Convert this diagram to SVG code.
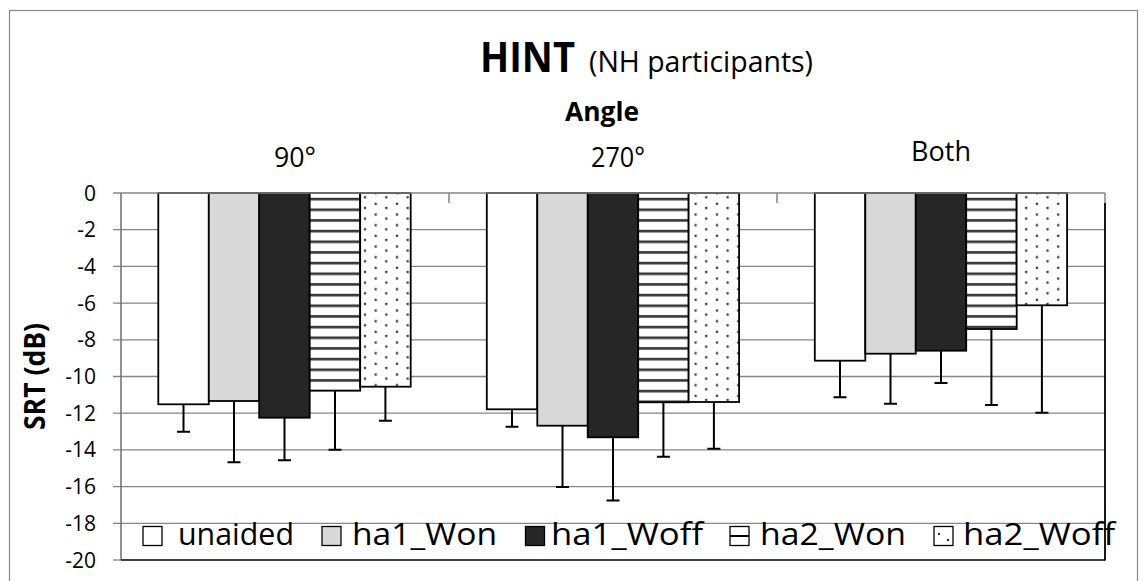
<svg xmlns="http://www.w3.org/2000/svg" width="1148" height="581" viewBox="0 0 1148 581">
<style>
text{font-family:"Open Sans","Liberation Sans",sans-serif;fill:#000}
.grid{stroke:#868686;stroke-width:1.3}
.bar{stroke:#000;stroke-width:1.8}
.err{stroke:#000;stroke-width:2;fill:none}
.tick{font-size:21px;text-anchor:end}
.cat{font-size:28px}
.leg{font-size:31px}
</style>
<defs>
<pattern id="stripes" patternUnits="userSpaceOnUse" x="0" y="193" width="20" height="10.667">
<rect width="20" height="10.667" fill="#fff"/>
<rect y="4.8" width="20" height="2.6" fill="#333"/>
</pattern>
<pattern id="dots" patternUnits="userSpaceOnUse" x="363" y="195.3" width="21.33" height="10.667">
<rect width="21.33" height="10.667" fill="#fff"/>
<circle cx="2" cy="2" r="1.3" fill="#3a3a3a"/>
<circle cx="12.67" cy="8.6" r="1.3" fill="#3a3a3a"/>
</pattern>
</defs>
<rect width="1148" height="581" fill="#fff"/>
<rect x="9.5" y="10.5" width="1128" height="580" fill="none" stroke="#898989" stroke-width="1.2"/>

<g id="title">
<text x="480" y="72" font-size="42" font-weight="bold" textLength="95" lengthAdjust="spacingAndGlyphs">HINT</text>
<text x="589" y="72" font-size="29" textLength="224" lengthAdjust="spacingAndGlyphs">(NH participants)</text>
</g>
<g id="axis-title-x">
<text x="565" y="121" font-size="27" font-weight="bold" textLength="74" lengthAdjust="spacingAndGlyphs">Angle</text>
</g>
<g id="category-labels">
<text x="274" y="167" class="cat" textLength="42" lengthAdjust="spacingAndGlyphs">90°</text>
<text x="591" y="167" class="cat" textLength="54" lengthAdjust="spacingAndGlyphs">270°</text>
<text x="911" y="161" class="cat" textLength="60" lengthAdjust="spacingAndGlyphs">Both</text>
</g>
<g id="axis-title-y">
<text transform="translate(44.5,430) rotate(-90)" font-size="28" font-weight="bold" textLength="107" lengthAdjust="spacingAndGlyphs">SRT (dB)</text>
</g>

<g id="gridlines" class="grid">
<line x1="113" y1="229.7" x2="1105" y2="229.7"/>
<line x1="113" y1="266.4" x2="1105" y2="266.4"/>
<line x1="113" y1="303.1" x2="1105" y2="303.1"/>
<line x1="113" y1="339.8" x2="1105" y2="339.8"/>
<line x1="113" y1="376.5" x2="1105" y2="376.5"/>
<line x1="113" y1="413.2" x2="1105" y2="413.2"/>
<line x1="113" y1="449.9" x2="1105" y2="449.9"/>
<line x1="113" y1="486.6" x2="1105" y2="486.6"/>
<line x1="113" y1="523.3" x2="1105" y2="523.3"/>
<line x1="113" y1="560" x2="121" y2="560"/>
</g>

<g id="y-tick-labels">
<text class="tick" x="96" y="200.5">0</text>
<text class="tick" x="96" y="237.2">-2</text>
<text class="tick" x="96" y="273.9">-4</text>
<text class="tick" x="96" y="310.6">-6</text>
<text class="tick" x="96" y="347.3">-8</text>
<text class="tick" x="96" y="384">-10</text>
<text class="tick" x="96" y="420.7">-12</text>
<text class="tick" x="96" y="457.4">-14</text>
<text class="tick" x="96" y="494.1">-16</text>
<text class="tick" x="96" y="530.8">-18</text>
<text class="tick" x="96" y="567.5">-20</text>
</g>

<g id="series-unaided">
<rect class="bar" x="158.3" y="193" width="50.5" height="211.3" fill="#fff"/>
<rect class="bar" x="486.8" y="193" width="50.5" height="216.3" fill="#fff"/>
<rect class="bar" x="814.8" y="193" width="50.5" height="167.7" fill="#fff"/>
</g>
<g id="series-ha1_Won">
<rect class="bar" x="208.8" y="193" width="50.5" height="208" fill="#d9d9d9"/>
<rect class="bar" x="537.3" y="193" width="50.5" height="232.7" fill="#d9d9d9"/>
<rect class="bar" x="865.3" y="193" width="50.5" height="160.7" fill="#d9d9d9"/>
</g>
<g id="series-ha1_Woff">
<rect class="bar" x="259.2" y="193" width="50.5" height="224.7" fill="#262626"/>
<rect class="bar" x="587.7" y="193" width="50.5" height="244.3" fill="#262626"/>
<rect class="bar" x="915.7" y="193" width="50.5" height="157.7" fill="#262626"/>
</g>
<g id="series-ha2_Won">
<rect class="bar" x="309.7" y="193" width="50.5" height="197.7" fill="url(#stripes)"/>
<rect class="bar" x="638.2" y="193" width="50.5" height="209.3" fill="url(#stripes)"/>
<rect class="bar" x="966.2" y="193" width="50.5" height="136" fill="url(#stripes)"/>
</g>
<g id="series-ha2_Woff">
<rect class="bar" x="360.2" y="193" width="50.5" height="193.7" fill="url(#dots)"/>
<rect class="bar" x="688.6" y="193" width="50.5" height="209" fill="url(#dots)"/>
<rect class="bar" x="1016.6" y="193" width="50.5" height="112.3" fill="url(#dots)"/>
</g>

<g id="error-bars" class="err">
<path d="M183.5 404.3V431.7M177 431.7H190"/>
<path d="M234 401V462.3M227.5 462.3H240.5"/>
<path d="M284.5 417.7V460.3M278 460.3H291"/>
<path d="M335 390.7V449.7M328.5 449.7H341.5"/>
<path d="M385.4 386.7V420.7M378.9 420.7H391.9"/>
<path d="M512 409.3V426.7M505.5 426.7H518.5"/>
<path d="M562.5 425.7V487M556 487H569"/>
<path d="M613 437.3V500.4M606.5 500.4H619.5"/>
<path d="M663.4 402.3V456.7M656.9 456.7H669.9"/>
<path d="M713.9 402V448.7M707.4 448.7H720.4"/>
<path d="M840 360.7V397.3M833.5 397.3H846.5"/>
<path d="M890.5 353.7V403.7M884 403.7H897"/>
<path d="M941 350.7V383M934.5 383H947.5"/>
<path d="M991.4 329V405M984.9 405H997.9"/>
<path d="M1041.9 305.3V412.7M1035.4 412.7H1048.4"/>
</g>

<g id="axes">
<line x1="113" y1="193" x2="1105" y2="193" stroke="#868686" stroke-width="1.5"/>
<line x1="121" y1="193" x2="121" y2="560" stroke="#6e6e6e" stroke-width="1.5"/>
<line x1="449" y1="193" x2="449" y2="203" stroke="#868686" stroke-width="1.5"/>
<line x1="777" y1="193" x2="777" y2="203" stroke="#868686" stroke-width="1.5"/>
<line x1="1105" y1="193" x2="1105" y2="203" stroke="#868686" stroke-width="1.5"/>
<line x1="1105" y1="203" x2="1105" y2="560.5" stroke="#000" stroke-width="1.8"/>
<line x1="121" y1="560" x2="1105" y2="560" stroke="#000" stroke-width="1.5"/>
</g>

<g id="legend">
<g id="legend-unaided">
<rect x="143" y="526.5" width="19" height="19" fill="#fff" stroke="#000" stroke-width="1.3"/>
<text class="leg" x="178" y="545" textLength="116" lengthAdjust="spacingAndGlyphs">unaided</text>
</g>
<g id="legend-ha1_Won">
<rect x="322" y="526.5" width="19" height="19" fill="#d9d9d9" stroke="#000" stroke-width="1.3"/>
<text class="leg" x="352" y="545" textLength="145" lengthAdjust="spacingAndGlyphs">ha1_Won</text>
</g>
<g id="legend-ha1_Woff">
<rect x="525.5" y="526.5" width="19" height="19" fill="#262626" stroke="#000" stroke-width="1.3"/>
<text class="leg" x="551" y="545" textLength="152" lengthAdjust="spacingAndGlyphs">ha1_Woff</text>
</g>
<g id="legend-ha2_Won">
<rect x="730" y="526.5" width="19" height="19" fill="#fff" stroke="#000" stroke-width="1.3"/>
<line x1="730" y1="536" x2="749" y2="536" stroke="#000" stroke-width="2"/>
<text class="leg" x="760" y="545" textLength="146" lengthAdjust="spacingAndGlyphs">ha2_Won</text>
</g>
<g id="legend-ha2_Woff">
<rect x="934" y="526.5" width="19" height="19" fill="#fff" stroke="#000" stroke-width="1.3"/>
<circle cx="939" cy="534" r="1.2" fill="#333"/>
<circle cx="948" cy="540" r="1.2" fill="#333"/>
<text class="leg" x="963" y="545" textLength="152" lengthAdjust="spacingAndGlyphs">ha2_Woff</text>
</g>
</g>
</svg>
